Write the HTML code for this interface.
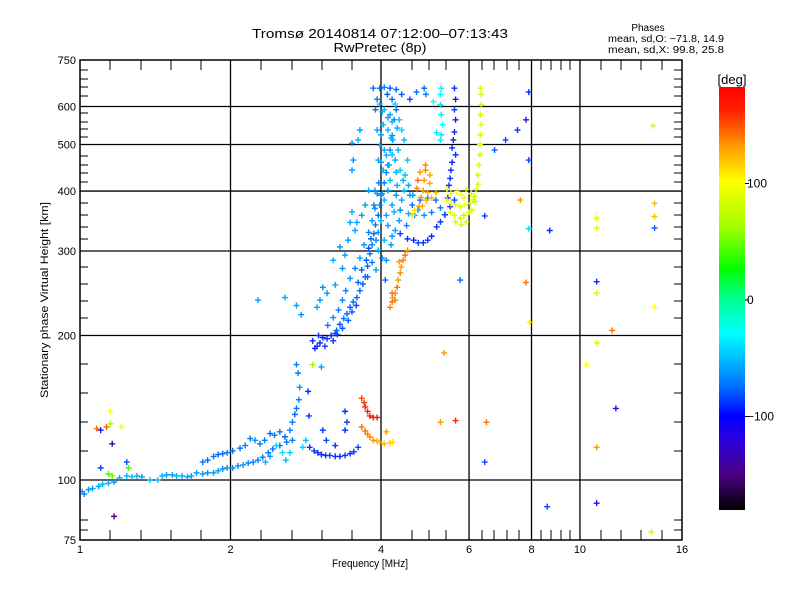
<!DOCTYPE html>
<html><head><meta charset="utf-8"><style>
html,body{margin:0;padding:0;background:#fff;}
svg{display:block;font-family:"Liberation Sans",sans-serif;}
</style></head><body>
<svg id="chart" width="800" height="600" xmlns="http://www.w3.org/2000/svg">
<defs>
<linearGradient id="cmap" x1="0" y1="1" x2="0" y2="0">
<stop offset="0" stop-color="#000000"/><stop offset="0.083" stop-color="#4a0080"/><stop offset="0.167" stop-color="#2a00e0"/><stop offset="0.222" stop-color="#0000ff"/><stop offset="0.292" stop-color="#0070ff"/><stop offset="0.361" stop-color="#00c0ff"/><stop offset="0.417" stop-color="#00ffff"/><stop offset="0.5" stop-color="#00ff90"/><stop offset="0.569" stop-color="#00ff00"/><stop offset="0.667" stop-color="#a0ff00"/><stop offset="0.778" stop-color="#ffff00"/><stop offset="0.861" stop-color="#ff9900"/><stop offset="0.944" stop-color="#ff2000"/><stop offset="1" stop-color="#ff0000"/>
</linearGradient>
</defs>
<text x="380" y="38" text-anchor="middle" font-size="13" textLength="256" lengthAdjust="spacingAndGlyphs">Tromsø 20140814 07:12:00–07:13:43</text>
<text x="380" y="52" text-anchor="middle" font-size="13" textLength="93" lengthAdjust="spacingAndGlyphs">RwPretec (8p)</text>
<text x="648" y="31" text-anchor="middle" font-size="10">Phases</text>
<text x="608" y="42" font-size="10" textLength="116" lengthAdjust="spacingAndGlyphs">mean, sd,O: −71.8, 14.9</text>
<text x="608" y="53" font-size="10" textLength="116" lengthAdjust="spacingAndGlyphs">mean, sd,X:  99.8, 25.8</text>
<g id="grid"></g>
<g id="marks"></g>
<rect x="80" y="60" width="602" height="480" fill="none" stroke="#000" stroke-width="1.5"/>
<g id="axes"></g>
<text x="370" y="567" text-anchor="middle" font-size="11" textLength="76" lengthAdjust="spacingAndGlyphs">Frequency [MHz]</text>
<text transform="translate(48,300) rotate(-90)" text-anchor="middle" font-size="11" textLength="196" lengthAdjust="spacingAndGlyphs">Stationary phase Virtual Height [km]</text>
<rect x="719" y="87" width="26" height="423" fill="url(#cmap)"/>
<text x="732" y="84" text-anchor="middle" font-size="13">[deg]</text>
<g id="cbar"></g>
</svg>
<script>
const xTickVals=[1,2,4,6,8,10,16];
const xTickLabels=["1","2","4","6","8","10","16"];
const yTickVals=[75,100,200,300,400,500,600,750];
const yTickLabels=["75","100","200","300","400","500","600","750"];
const cbTickVals=[100,0,-100];
const cbTickLabels=["100","0","\u2212100"];
const freqs=[1.01,1.04,1.06,1.09,1.11,1.14,1.17,1.20,1.24,1.27,1.30,1.33,1.38,1.43,1.46,1.49,1.53,1.56,1.60,1.64,1.67,1.71,1.76,1.80,1.85,1.89,1.93,1.97,2.02,2.07,2.12,2.17,2.22,2.27,2.32,2.38,2.43,2.51,2.59,2.66,
1.76,1.80,1.85,1.89,1.93,1.97,2.02,2.09,2.14,2.19,2.24,2.29,2.34,2.40,2.45,2.51,2.57,2.63,2.66,2.69,2.71,2.74,2.75,2.73,2.71,
2.47,2.54,2.58,2.63,2.35,2.79,2.83,2.40,
2.88,2.94,2.99,3.04,3.10,3.16,3.24,3.31,3.39,3.47,3.53,3.60,3.39,3.42,3.39,2.86,2.87,3.06,3.11,3.24,
3.66,3.70,3.72,3.76,3.80,3.86,3.93,3.66,3.72,3.76,3.80,3.86,3.93,3.98,4.06,4.17,4.22,4.10,
1.08,1.10,1.13,1.15,1.15,1.21,1.16,1.17,1.14,1.16,1.10,1.24,1.25,1.02,
2.92,2.98,3.02,3.06,3.12,3.18,3.24,3.00,2.95,3.09,3.21,
3.26,3.31,3.37,3.42,3.47,3.52,3.58,3.63,3.68,3.72,3.76,3.80,3.84,3.87,3.90,3.95,3.98,4.02,4.06,4.10,4.13,4.17,4.21,4.25,4.29,4.21,4.12,
3.13,3.21,3.29,3.35,3.40,3.47,3.55,3.63,3.70,3.78,3.84,3.89,3.93,
2.98,3.06,3.21,3.31,3.47,3.58,3.50,3.50,3.52,3.60,3.63,3.50,2.71,2.57,2.77,
3.86,3.98,4.06,4.17,4.29,4.40,4.57,4.71,4.88,4.92,3.93,3.90,
3.98,4.06,4.17,4.27,4.04,4.13,4.22,3.98,4.10,4.27,4.37,4.04,4.17,4.31,4.45,4.57,4.06,4.21,4.37,4.54,4.67,4.00,4.13,4.27,4.06,4.19,3.95,4.10,3.91,3.96,3.95,4.40,4.29,4.47,4.33,4.40,4.35,3.93,3.89,3.87,4.50,4.62,4.79,4.96,5.15,
4.02,4.13,4.21,4.31,4.0,4.19,4.06,4.21,4.0,4.15,4.29,4.13,4.0,4.25,4.1,4.35,3.95,4.21,3.91,4.08,4.02,3.84,3.76,4.43,4.52,4.45,4.54,4.63,4.74,4.88,5.05,5.26,
3.35,3.27,3.44,3.50,3.57,3.60,3.66,3.74,3.78,3.82,
3.02,3.12,3.24,3.35,3.39,3.44,3.55,3.66,3.72,3.78,
4.37,4.52,4.65,4.75,4.86,4.96,5.05,5.17,5.26,5.37,5.50,5.61,
5.61,5.64,5.61,5.64,5.61,5.58,5.55,5.64,5.55,5.52,5.50,5.47,5.44,5.37,
5.28,5.26,5.26,5.28,5.31,5.28,5.26,5.17,5.09,
4.79,4.91,5.01,4.74,4.88,5.01,4.72,4.86,4.96,4.81,4.93,5.05,4.77,4.67,4.62,5.15,4.91,4.84,
5.42,5.52,5.67,5.79,5.92,6.06,6.15,5.42,5.52,5.64,5.76,5.89,6.03,6.12,5.50,5.61,5.76,5.86,6.00,5.64,5.79,5.92,6.08,6.17,5.86,
6.32,6.35,6.35,6.32,6.35,6.32,6.31,6.31,6.28,6.25,6.25,6.20,
4.17,4.21,4.22,4.27,4.31,4.33,4.37,4.39,4.43,4.47,4.52,4.27,4.21,4.35,
7.9,7.8,7.9,7.6,7.9,7.95,7.8,8.7,8.6,10.8,10.8,10.8,10.8,10.8,10.8,10.8,11.6,11.8,10.3,14.0,14.1,14.1,14.1,14.1,13.9,6.45,6.5,5.35,5.26,5.64,6.45,6.75,7.1,7.5,5.76,2.27,2.92,3.04];
const heights=[94.6,95.5,96,97,98,98.5,99,101,102,101.5,102,101.5,100,100,102,102.5,102.5,102,102,101.5,102,103.5,103,103.5,103.5,104.5,105.5,106,106,107,107.5,108.5,109,110,111.5,114,116,118,120,121,
109,110,112,113,113.5,114,115,116.5,118,122,121,119,121,125,124,126,123,127,132,137,141,147,156,167,174,
118,114,110,114,109,117,121,112,
117,115,114,113,112.5,112.5,112,112,112.5,113.5,114.5,117,127,132,139,153,136,127,121,118,
148,145,142,139,136,135,135,129,126.5,124.5,123,121,120.5,120,119,119.5,120,126,
128,127,129,131,139,129,119,84,103,102,106,109,106,93.5,
195,190,193,198,197,200,202,200,188,190,195,
205,211,217,222,229,235,240,248,256,265,279,296,309,326,340,356,374,395,416,437,453,487,522,563,591,621,636,
210,218,226,237,248,263,276,290,309,328,347,368,395,
229,252,287,306,344,344,362,442,464,511,536,503,231,240,221,
655,655,658,655,651,636,621,643,655,636,621,591,
607,591,577,607,550,536,511,498,475,464,442,442,421,411,401,392,383,374,365,359,356,347,339,331,316,309,301,287,274,416,464,383,392,432,487,536,563,536,401,374,339,374,383,387,383,
585,569,558,541,524,516,487,476,459,453,438,401,392,362,356,347,328,322,316,261,290,284,265,421,464,511,411,392,365,356,361,369,
207,201,215,224,231,258,274,287,304,318,
237,245,255,276,294,316,331,356,374,401,
326,318,316,312,312,316,322,337,345,357,371,383,
655,621,591,563,531,511,492,476,459,442,425,411,387,357,
655,636,605,577,550,524,511,529,614,
438,442,432,421,421,415,405,401,397,388,383,387,372,365,356,397,453,372,
403,395,399,393,403,395,390,383,377,374,371,374,377,383,361,356,351,356,361,345,340,345,365,380,387,
655,636,605,577,550,524,500,476,453,432,413,403,
229,235,240,245,252,261,270,278,287,294,301,237,245,285,
643,563,464,383,334,213,258,331,88,351,335,259,245,193,117,89.5,205,141,174,547,377,354,335,229,77.9,109,132,184,132,133,355,487,511,536,261,237,174,172];
const phases=[-60,-62,-58,-60,-55,-60,-62,-58,-55,-50,-55,-60,-50,-48,-55,-58,-60,-55,-58,-60,-58,-62,-60,-65,-62,-60,-65,-62,-65,-68,-65,-70,-68,-70,-72,-70,-72,-75,-75,-72,
-75,-78,-75,-80,-75,-72,-78,-75,-70,-72,-65,-75,-70,-80,-72,-75,-78,-70,-75,-80,-75,-70,-65,-72,-70,
-45,-40,-50,-45,-55,-45,-50,-60,
-95,-98,-95,-100,-97,-95,-98,-100,-95,-97,-95,-90,-100,-95,-98,-100,-95,-100,-90,-95,
150,155,160,160,165,160,165,140,140,135,135,130,125,120,120,115,110,130,
140,-110,145,60,100,95,-140,-150,40,50,-90,-90,40,-70,
-100,-95,-105,-100,-95,-100,-90,-95,-100,-90,-95,
-80,-85,-75,-80,-85,-78,-80,-75,-82,-78,-80,-75,-70,-78,-72,-75,-70,-68,-72,-70,-65,-68,-70,-72,-75,-78,-80,
-70,-65,-72,-68,-70,-65,-72,-60,-65,-70,-62,-68,-65,
-60,-65,-55,-62,-58,-60,-55,-60,-65,-55,-60,-62,-60,-58,-65,
-75,-80,-70,-85,-78,-80,-90,-75,-80,-70,-72,-75,
-55,-50,-58,-45,-55,-52,-60,-50,-55,-58,-45,-60,-50,-55,-48,-60,-52,-58,-65,-55,-60,-50,-62,-58,-55,-60,-52,-65,-60,-70,-55,-58,-62,-50,-55,-45,-50,-60,-65,-68,-70,-75,-80,-70,-75,
-55,-60,-50,-58,-62,-55,-60,-52,-65,-58,-55,-60,-62,-55,-58,-60,-65,-62,-68,-75,-70,-72,-78,-55,-50,-52,-58,-62,-60,-65,-70,-72,
-85,-88,-82,-85,-88,-80,-85,-82,-85,-80,
-60,-62,-58,-65,-60,-62,-58,-60,-62,-58,
-95,-98,-100,-95,-97,-95,-100,-98,-95,-100,-95,-90,
-100,-105,-95,-110,-100,-105,-95,-100,-105,-98,-100,-95,-100,-90,
-35,-30,-40,-35,-30,-38,-35,-40,-30,
130,135,125,140,130,125,135,130,120,130,125,120,130,110,110,120,135,125,
100,95,90,100,85,90,80,95,100,90,85,95,88,80,90,85,80,75,85,80,78,82,85,80,88,
85,80,82,78,85,80,82,78,85,80,85,90,
135,140,130,135,140,130,135,130,135,140,130,135,140,130,
-100,-110,-90,130,-40,110,140,-100,-90,80,85,-100,80,75,130,-110,140,-110,100,80,120,120,-80,100,80,-90,140,130,130,160,-90,-80,-90,-100,-80,-60,60,-60];

const X0=80,X1=682,Y0=540,Y1=60;
function xs(f){return X0+(X1-X0)*Math.log2(f)/4;}
function ys(h){return Y0-(Y0-Y1)*Math.log10(h/75);}
function cbY(v){return 300-v*1.165;}
const NS="http://www.w3.org/2000/svg";
function mk(tag,attrs,parent){const e=document.createElementNS(NS,tag);for(const k in attrs)e.setAttribute(k,attrs[k]);parent.appendChild(e);return e;}
const stops=[[-180,[0,0,0]],[-150,[74,0,128]],[-120,[42,0,224]],[-100,[10,40,255]],[-75,[0,115,255]],[-50,[0,192,255]],[-30,[0,255,255]],[0,[0,255,144]],[25,[0,255,0]],[60,[160,255,0]],[100,[255,255,0]],[130,[255,153,0]],[160,[255,32,0]],[180,[255,0,0]]];
function color(v){v=Math.max(-180,Math.min(180,v));for(let i=0;i<stops.length-1;i++){const a=stops[i],b=stops[i+1];if(v<=b[0]){const t=(v-a[0])/(b[0]-a[0]);const c=a[1].map((q,j)=>Math.round(q+(b[1][j]-q)*t));return "rgb("+c.join(",")+")";}}return "rgb(255,0,0)";}

const grid=document.getElementById("grid"),axes=document.getElementById("axes"),marks=document.getElementById("marks"),cbar=document.getElementById("cbar");
xTickVals.forEach(function(v){if(v>1&&v<16){const g=mk("line",{x1:xs(v),x2:xs(v),y1:Y1,y2:Y0,stroke:"#000","stroke-width":1.3},grid);

}});
yTickVals.forEach(function(v){if(v>75&&v<750){const g=mk("line",{x1:X0,x2:X1,y1:ys(v),y2:ys(v),stroke:"#000","stroke-width":1.3},grid);

}});
const xMinorPx=[110,141,171,201,261,292,322,352,412,429,446,482,494,507,519,541,551,561,570,601,621,641,662];
xMinorPx.forEach(function(px){mk("line",{x1:px,x2:px,y1:Y0,y2:Y0-10,stroke:"#000"},axes);mk("line",{x1:px,x2:px,y1:Y1,y2:Y1+10,stroke:"#000"},axes);});
const yMinorPx=[70,79,87,96,113,122,129,137,156,165,173,182,203,215,227,239,267,284,301,318,364,393,422,451,520,530];
yMinorPx.forEach(function(py){mk("line",{x1:X0,x2:X0+8,y1:py,y2:py,stroke:"#000"},axes);mk("line",{x1:X1,x2:X1-8,y1:py,y2:py,stroke:"#000"},axes);});
xTickVals.forEach(function(v,i){const t=mk("text",{x:xs(v),y:553,"text-anchor":"middle","font-size":11},axes);t.textContent=xTickLabels[i];

});
yTickVals.forEach(function(v,i){const t=mk("text",{x:76,y:ys(v)+4,"text-anchor":"end","font-size":11},axes);t.textContent=yTickLabels[i];

});
cbTickVals.forEach(function(v,i){mk("line",{x1:745,x2:749,y1:cbY(v),y2:cbY(v),stroke:"#000"},cbar);const t=mk("text",{x:747,y:cbY(v)+4,"font-size":12},cbar);t.textContent=cbTickLabels[i];

});
for(let i=0;i<freqs.length;i++){const x=xs(freqs[i]),y=ys(heights[i]),c=color(phases[i]);
const p=mk("path",{d:"M"+(x-3)+" "+y+"H"+(x+3)+"M"+x+" "+(y-3)+"V"+(y+3),stroke:c,"stroke-width":1.4,fill:"none"},marks);

}
</script>
</body></html>
